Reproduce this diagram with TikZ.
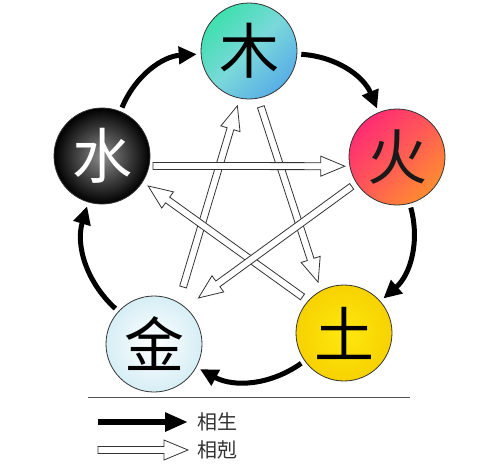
\documentclass[tikz,border=0pt]{standalone}
\usepackage{fontspec}
\newfontfamily\cjk{Noto Sans CJK SC}
\usetikzlibrary{calc,arrows.meta}
\definecolor{muA}{HTML}{3EE0AE}
\definecolor{muM}{HTML}{7AD8DA}
\definecolor{muB}{HTML}{58AEE6}
\definecolor{huoA}{HTML}{FF2C74}
\definecolor{huoM}{HTML}{FF5A56}
\definecolor{huoB}{HTML}{FF8C30}
\definecolor{tuA}{HTML}{FFE810}
\definecolor{tuB}{HTML}{F6D200}
\definecolor{jinB}{HTML}{D6EEF5}
\definecolor{edgec}{HTML}{333333}
\tikzset{
  elem/.style={circle, minimum size=96pt, inner sep=0pt, draw=edgec, line width=0.8pt,
    font=\cjk\fontsize{60}{60}\selectfont},
  sheng/.style={line width=5pt, -{Triangle[length=18pt,width=17pt]}, shorten <=4pt, shorten >=4pt},
  hollow/.style={draw=edgec, fill=white, line width=0.8pt, line join=miter},
  rulec/.style={draw=edgec!85, line width=1pt},
  legend/.style={font=\cjk\fontsize{20}{20}\selectfont, text=black!80, anchor=west, inner sep=0pt}
}
\newcommand\hollowarr[2]{%
  \coordinate (hm) at ($(#2)!24pt!(#1)$);
  \draw[hollow] ($(#1)!3.5pt!90:(#2)$) -- ($(hm)!3.5pt!90:(#2)$) -- ($(hm)!10pt!90:(#2)$) -- (#2)
    -- ($(hm)!10pt!-90:(#2)$) -- ($(hm)!3.5pt!-90:(#2)$) -- ($(#1)!3.5pt!-90:(#2)$) -- cycle;}
\begin{document}
\begin{tikzpicture}[x=1pt,y=1pt]
\useasboundingbox[fill=white] (0,0) rectangle (500,-472);
% elements
\node[elem, top color=muA, bottom color=muB, middle color=muM, shading angle=45] (mu) at (249,-51) {木};
\node[elem, top color=huoA, bottom color=huoB, middle color=huoM, shading angle=45, text=black!90] (huo) at (397,-157) {火};
\node[elem, inner color=tuA, outer color=tuB] (tu) at (344,-333) {土};
\node[elem, inner color=white, outer color=jinB] (jin) at (154,-344) {金};
\node[elem, inner color=black!45, outer color=black, text=white] (shui) at (102,-156) {水};
% generating cycle
\draw[sheng] (shui) to[bend left=32] (mu);
\draw[sheng] (mu) to[bend left=32] (huo);
\draw[sheng] (huo) to[bend left=32] (tu);
\draw[sheng] (tu) to[bend left=32] (jin);
\draw[sheng] (jin) to[bend left=32] (shui);
% overcoming star
\coordinate (a1s) at ($(shui)+(-11:52)$);
\coordinate (a1t) at ($(huo)+(190:53)$);
\coordinate (a2s) at ($(huo)+(213:54)$);
\coordinate (a2t) at ($(jin)+(46:64)$);
\coordinate (a3s) at ($(jin)+(63:64)$);
\coordinate (a3t) at ($(mu)+(258:56)$);
\coordinate (a4s) at ($(mu)+(-78:57)$);
\coordinate (a4t) at ($(tu)+(117:57)$);
\coordinate (a5s) at ($(tu)+(139:55)$);
\coordinate (a5t) at ($(shui)+(-33:55)$);
\hollowarr{a4s}{a4t}
\hollowarr{a3s}{a3t}
\hollowarr{a5s}{a5t}
\hollowarr{a2s}{a2t}
\hollowarr{a1s}{a1t}
% legend
\coordinate (r1) at (88,-397);
\coordinate (r2) at (410,-397);
\draw[rulec] (r1) -- (r2);
\coordinate (l1a) at (98,-422);
\coordinate (l1b) at (188,-422);
\draw[line width=6pt, -{Triangle[length=23pt,width=18pt]}] (l1a) -- (l1b);
\node[legend] (t1) at (197,-422) {相生};
\coordinate (l2a) at (98,-450);
\coordinate (l2b) at (188,-450);
\hollowarr{l2a}{l2b}
\node[legend] (t2) at (197,-450) {相剋};
\end{tikzpicture}
\end{document}
